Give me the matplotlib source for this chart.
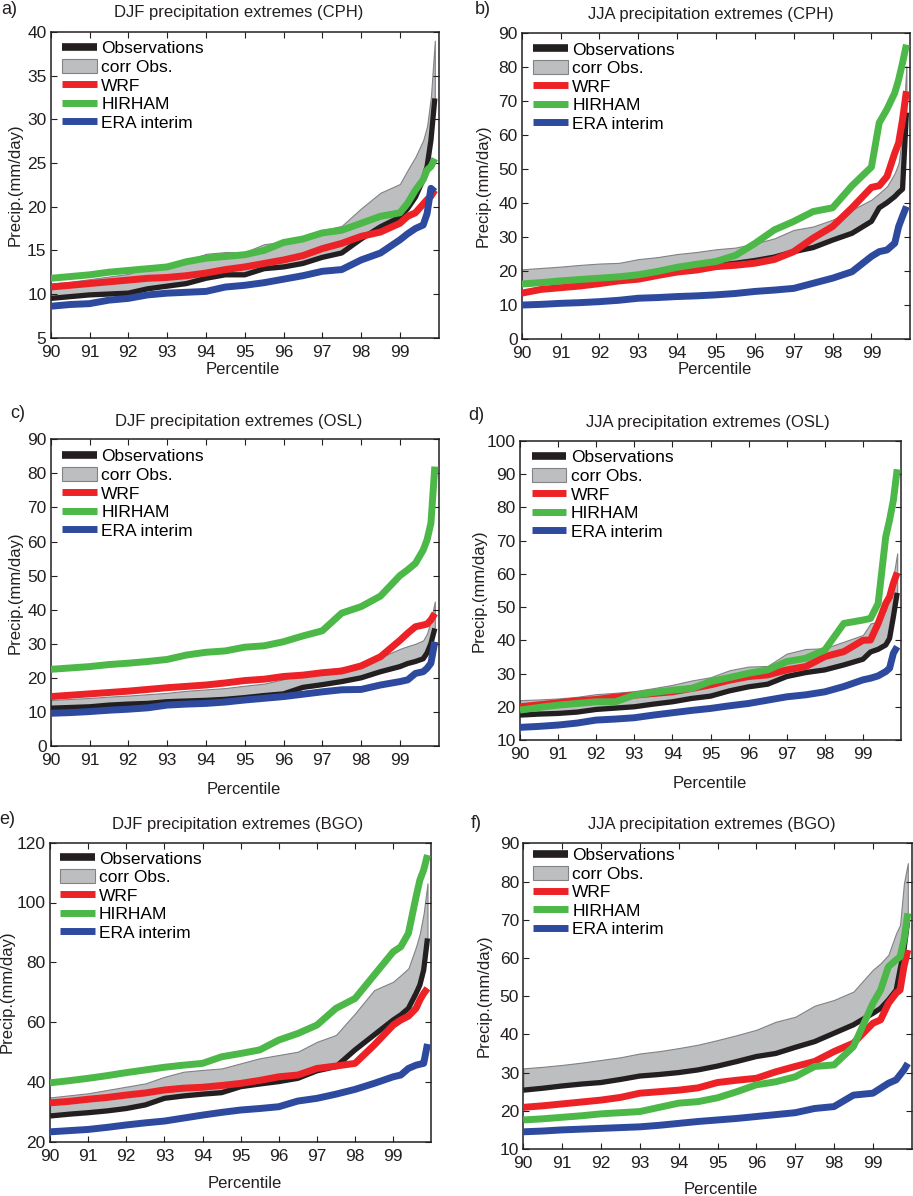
import matplotlib
matplotlib.use("Agg")
import matplotlib.pyplot as plt
from matplotlib.lines import Line2D
from matplotlib.patches import Patch

plt.rcParams['font.family'] = ['Liberation Sans', 'DejaVu Sans']

# ---------------- data ----------------
percentile = [90, 90.5, 91, 91.5, 92, 92.5, 93, 93.5, 94, 94.5, 95, 95.5, 96, 96.5,
              97, 97.5, 98, 98.5, 99, 99.2, 99.4, 99.6, 99.7, 99.8, 99.9]
xtick_labels = ['90', '91', '92', '93', '94', '95', '96', '97', '98', '99']
series_names = ['Observations', 'corr Obs.', 'WRF', 'HIRHAM', 'ERA interim']
titles = ['DJF precipitation extremes (CPH)', 'JJA precipitation extremes (CPH)',
          'DJF precipitation extremes (OSL)', 'JJA precipitation extremes (OSL)',
          'DJF precipitation extremes (BGO)', 'JJA precipitation extremes (BGO)']
panel_letters = ['a)', 'b)', 'c)', 'd)', 'e)', 'f)']

# a) DJF CPH
obs_a = [9.5, 9.7, 9.9, 10.0, 10.1, 10.6, 10.9, 11.2, 11.8, 12.2, 12.2, 12.9, 13.1, 13.5,
         14.2, 14.7, 16.3, 17.7, 18.8, 19.8, 21.1, 23.1, 24.6, 27.6, 32.4]
corr_a = [11.2, 11.4, 11.7, 12.0, 12.3, 13.0, 13.3, 13.8, 14.6, 14.8, 14.8, 15.7, 16.0, 16.5,
          17.3, 17.8, 19.8, 21.6, 22.6, 24.2, 25.7, 27.6, 29.2, 32.6, 39.0]
wrf_a = [10.8, 11.0, 11.2, 11.4, 11.6, 11.8, 11.9, 12.1, 12.4, 12.8, 13.1, 13.5, 13.9, 14.4,
         15.2, 15.8, 16.6, 17.1, 18.1, 18.9, 19.3, 20.3, 20.8, 21.2, 21.9]
hirham_a = [11.8, 12.0, 12.2, 12.5, 12.7, 12.9, 13.1, 13.7, 14.1, 14.3, 14.5, 15.0, 15.9, 16.3,
            17.0, 17.3, 18.1, 18.9, 19.3, 20.4, 21.9, 23.1, 24.2, 24.6, 25.5]
era_a = [8.6, 8.8, 8.9, 9.3, 9.5, 9.9, 10.1, 10.2, 10.3, 10.8, 11.0, 11.3, 11.7, 12.1,
         12.6, 12.8, 13.9, 14.7, 16.2, 16.9, 17.5, 17.9, 19.2, 22.1, 21.7]

# b) JJA CPH
obs_b = [16.0, 16.4, 16.8, 17.2, 17.5, 18.0, 18.4, 19.2, 20.0, 20.6, 21.5, 22.2, 23.0, 24.0,
         25.6, 26.8, 29.0, 31.0, 34.5, 38.5, 40.0, 41.8, 43.0, 44.0, 66.5]
corr_b = [20.4, 20.8, 21.2, 21.7, 22.1, 22.3, 23.4, 24.0, 24.9, 25.5, 26.3, 26.8, 28.0, 29.5,
          32.0, 33.0, 35.0, 37.9, 40.9, 42.8, 44.8, 48.7, 51.7, 60.5, 80.2]
wrf_b = [13.4, 14.5, 15.0, 15.5, 16.2, 17.0, 17.5, 18.6, 19.6, 20.2, 21.2, 21.6, 22.2, 23.3,
         25.6, 29.6, 33.0, 38.5, 44.5, 45.0, 47.7, 54.6, 57.6, 64.4, 72.8]
hirham_b = [16.1, 16.5, 17.0, 17.4, 17.8, 18.2, 18.8, 19.8, 21.0, 21.9, 22.7, 24.5, 28.0, 32.0,
            34.5, 37.4, 38.5, 45.0, 50.5, 63.5, 67.5, 72.3, 76.2, 81.1, 86.5]
era_b = [9.9, 10.1, 10.4, 10.6, 10.9, 11.3, 11.9, 12.1, 12.4, 12.6, 12.9, 13.3, 13.9, 14.3,
         14.8, 16.3, 17.8, 19.7, 24.2, 25.6, 26.1, 28.1, 33.0, 36.0, 38.9]

# c) DJF OSL
obs_c = [11.1, 11.3, 11.5, 12.0, 12.3, 12.5, 13.0, 13.2, 13.4, 13.7, 14.2, 14.8, 15.3, 17.2,
         18.0, 18.9, 20.0, 21.8, 23.3, 24.2, 24.8, 25.6, 27.3, 30.1, 34.5]
corr_c = [13.5, 13.8, 14.1, 14.5, 14.8, 15.2, 15.6, 16.2, 16.6, 17.0, 17.7, 18.3, 19.6, 21.3,
          22.2, 23.0, 24.2, 26.0, 28.5, 29.3, 30.0, 31.0, 33.0, 37.0, 42.4]
wrf_c = [14.5, 14.9, 15.3, 15.7, 16.1, 16.6, 17.1, 17.5, 17.9, 18.5, 19.2, 19.6, 20.4, 20.8,
         21.5, 22.0, 23.5, 26.2, 31.0, 33.1, 35.0, 35.5, 35.8, 37.0, 38.9]
hirham_c = [22.5, 22.9, 23.3, 23.9, 24.3, 24.8, 25.4, 26.7, 27.5, 27.9, 29.0, 29.4, 30.6, 32.3,
            33.8, 39.0, 40.9, 44.0, 50.0, 51.7, 53.6, 57.5, 60.5, 65.4, 82.0]
era_c = [9.6, 9.8, 10.1, 10.5, 10.8, 11.2, 12.0, 12.3, 12.5, 12.9, 13.5, 14.0, 14.5, 15.2,
         15.9, 16.5, 16.6, 17.9, 18.9, 19.4, 21.3, 21.8, 22.8, 24.3, 30.6]

# d) JJA OSL
obs_d = [17.5, 17.8, 18.0, 18.4, 19.2, 19.6, 20.0, 20.8, 21.5, 22.5, 23.2, 24.8, 26.0, 26.8,
         29.1, 30.3, 31.1, 32.6, 34.3, 36.5, 37.3, 38.6, 40.6, 47.1, 54.3]
corr_d = [22.0, 22.2, 22.5, 23.0, 23.8, 24.2, 24.7, 25.6, 26.6, 27.9, 28.9, 31.0, 32.1, 32.3,
          36.0, 37.4, 37.6, 39.6, 41.6, 45.1, 45.6, 49.1, 53.1, 59.2, 66.2]
wrf_d = [20.0, 20.6, 21.2, 21.8, 22.2, 22.9, 23.5, 24.0, 24.5, 25.5, 26.6, 28.0, 29.1, 29.6,
         31.1, 32.1, 35.1, 36.6, 40.0, 40.1, 45.1, 51.1, 53.1, 57.2, 60.4]
hirham_d = [19.0, 19.8, 20.5, 21.0, 21.5, 21.5, 23.5, 24.3, 25.0, 25.5, 27.6, 28.8, 30.1, 31.1,
            33.6, 34.6, 37.1, 45.1, 46.1, 46.6, 51.1, 71.2, 76.2, 82.2, 91.5]
era_d = [13.8, 14.1, 14.5, 15.1, 16.0, 16.3, 16.7, 17.5, 18.2, 18.9, 19.5, 20.3, 21.0, 22.0,
         23.0, 23.6, 24.5, 26.1, 28.1, 28.6, 29.3, 30.6, 31.6, 36.1, 38.1]

# e) DJF BGO
obs_e = [28.6, 29.2, 29.7, 30.3, 31.1, 32.3, 34.5, 35.3, 35.9, 36.4, 38.4, 39.3, 40.1, 41.2,
         43.7, 45.1, 50.7, 55.7, 60.7, 62.4, 64.6, 69.6, 72.4, 77.4, 88.0]
corr_e = [34.8, 35.5, 36.2, 37.3, 38.4, 39.5, 41.7, 43.4, 44.0, 44.5, 46.2, 47.9, 49.0, 50.1,
          53.4, 55.7, 62.9, 70.7, 73.5, 75.7, 78.0, 85.2, 89.7, 96.4, 106.4]
wrf_e = [33.0, 33.5, 34.2, 34.8, 35.6, 36.3, 37.3, 37.9, 38.2, 38.8, 39.5, 40.5, 41.7, 42.3,
         44.5, 45.3, 46.2, 52.3, 59.0, 60.7, 62.0, 64.6, 67.4, 69.6, 71.3]
hirham_e = [39.7, 40.4, 41.2, 42.1, 43.1, 44.0, 44.9, 45.6, 46.2, 48.4, 49.5, 50.7, 54.0, 56.2,
            59.0, 64.6, 67.9, 75.7, 83.5, 85.2, 89.7, 101.9, 107.5, 110.9, 115.9]
era_e = [23.3, 23.7, 24.1, 24.8, 25.6, 26.3, 26.9, 27.9, 28.9, 29.8, 30.6, 31.1, 31.7, 33.6,
         34.5, 35.9, 37.5, 39.5, 41.7, 42.3, 44.5, 45.6, 45.9, 46.2, 52.7]

# f) JJA BGO
obs_f = [25.4, 25.9, 26.5, 27.0, 27.4, 28.2, 29.1, 29.5, 30.0, 30.7, 31.7, 32.9, 34.2, 35.0,
         36.6, 38.1, 40.3, 42.5, 45.5, 46.8, 49.0, 51.6, 56.9, 62.1, 70.0]
corr_f = [31.1, 31.5, 32.0, 32.6, 33.3, 34.0, 35.0, 35.6, 36.4, 37.3, 38.5, 39.8, 41.2, 43.3,
          44.6, 47.5, 49.0, 51.2, 56.9, 58.6, 60.8, 66.5, 68.6, 79.5, 84.8]
wrf_f = [20.9, 21.3, 21.8, 22.3, 22.8, 23.5, 24.6, 25.0, 25.4, 26.0, 27.4, 28.0, 28.5, 30.2,
         31.6, 32.9, 35.5, 37.7, 42.9, 43.8, 48.1, 50.8, 51.6, 57.7, 62.1]
hirham_f = [17.6, 17.9, 18.3, 18.7, 19.2, 19.5, 19.8, 20.9, 22.0, 22.4, 23.4, 25.0, 26.8, 27.6,
            28.9, 31.6, 32.0, 36.8, 48.1, 51.6, 57.7, 59.5, 60.3, 64.7, 71.7]
era_f = [14.5, 14.7, 15.0, 15.2, 15.4, 15.6, 15.8, 16.2, 16.7, 17.2, 17.6, 18.0, 18.5, 19.0,
         19.5, 20.6, 21.1, 24.1, 24.6, 25.9, 27.2, 28.1, 29.4, 30.7, 32.4]

# ---------------- layout / style ----------------
W, H = 913, 1196
fig = plt.figure(figsize=(W / 100, H / 100), dpi=100)

def frac(x, y):
    return x / W, 1 - y / H

panels = [
    dict(rect=(50.7, 32, 438.7, 337.7), ylim=(5, 40), yt=range(5, 41, 5),
         data=(obs_a, corr_a, wrf_a, hirham_a, era_a),
         title=(239, 13), letter=(9, 9), ylab=(15.5, 185), xlab=(243, 369), leg=(11.5, 15)),
    dict(rect=(521.7, 32.7, 910.3, 338.7), ylim=(0, 90), yt=range(0, 91, 10),
         data=(obs_b, corr_b, wrf_b, hirham_b, era_b),
         title=(711, 15), letter=(483, 10), ylab=(483, 186), xlab=(714.7, 370), leg=(11.5, 15.6)),
    dict(rect=(50.7, 439.3, 438.7, 746), ylim=(0, 90), yt=range(0, 91, 10),
         data=(obs_c, corr_c, wrf_c, hirham_c, era_c),
         title=(239, 421.7), letter=(17.5, 413), ylab=(15.5, 593), xlab=(244, 789), leg=(11.5, 15.7)),
    dict(rect=(520, 441, 901, 740), ylim=(10, 100), yt=range(10, 101, 10),
         data=(obs_d, corr_d, wrf_d, hirham_d, era_d),
         title=(708, 422.3), letter=(476, 416), ylab=(479, 590.5), xlab=(710, 784), leg=(11.7, 15)),
    dict(rect=(50, 842.7, 431.3, 1141.7), ylim=(20, 120), yt=range(20, 121, 20),
         data=(obs_e, corr_e, wrf_e, hirham_e, era_e),
         title=(238, 824), letter=(7, 820), ylab=(7.5, 992), xlab=(244.7, 1184), leg=(10, 14.6)),
    dict(rect=(523.3, 843.3, 911.7, 1149), ylim=(10, 90), yt=range(10, 91, 10),
         data=(obs_f, corr_f, wrf_f, hirham_f, era_f),
         title=(712, 824), letter=(476, 824), ylab=(484, 996), xlab=(721, 1189), leg=(10, 10.5)),
]

c_obs = '#231f20'
c_band = '#bcbec0'
c_band_edge = '#808285'
c_wrf = '#ec2227'
c_hir = '#4cb848'
c_era = '#2e4a9f'
fs = 12

for i, p in enumerate(panels):
    l, t, r, b = p['rect']
    ax = fig.add_axes([l / W, 1 - b / H, (r - l) / W, (b - t) / H])
    obs, corr, wrf, hir, era = p['data']
    ax.fill_between(percentile, obs, corr, facecolor=c_band, edgecolor=c_band_edge,
                    linewidth=0.8, zorder=1)
    ax.plot(percentile, obs, color=c_obs, lw=3.8, solid_capstyle='butt', zorder=2)
    ax.plot(percentile, wrf, color=c_wrf, lw=5.0, solid_capstyle='butt', zorder=3)
    ax.plot(percentile, hir, color=c_hir, lw=5.0, solid_capstyle='butt', zorder=4)
    ax.plot(percentile, era, color=c_era, lw=5.0, solid_capstyle='butt', zorder=5)

    ax.set_xlim(90, 100)
    ax.set_ylim(*p['ylim'])
    ax.set_xticks(range(90, 100))
    ax.set_xticklabels(xtick_labels)
    ax.set_yticks(list(p['yt']))
    ax.tick_params(direction='in', top=True, right=True, length=4, width=0.8,
                   labelsize=fs + 0.5, colors='#231f20')
    ax.tick_params(axis='x', pad=5)
    ax.tick_params(axis='y', pad=3)
    for s in ax.spines.values():
        s.set_linewidth(1.1)
        s.set_color('#231f20')

    handles = [
        Line2D([0], [0], color=c_obs, lw=5.5, solid_capstyle='butt'),
        Patch(facecolor=c_band, edgecolor=c_band_edge, linewidth=0.8),
        Line2D([0], [0], color=c_wrf, lw=5, solid_capstyle='butt'),
        Line2D([0], [0], color=c_hir, lw=5, solid_capstyle='butt'),
        Line2D([0], [0], color=c_era, lw=5, solid_capstyle='butt'),
    ]
    dx, dy = p['leg']
    axw, axh = r - l, b - t
    ax.legend(handles, series_names, loc='upper left',
              bbox_to_anchor=(dx / axw, 1 - (dy - 6.5) / axh),
              frameon=False, fontsize=fs + 0.5, borderpad=0, borderaxespad=0,
              handlelength=2.0, handleheight=0.85, handletextpad=0.25,
              labelspacing=0.15)

    x, y = frac(*p['title'])
    fig.text(x, y, titles[i], ha='center', va='center', fontsize=fs, color='#231f20')
    x, y = frac(*p['letter'])
    fig.text(x, y, panel_letters[i], ha='center', va='center', fontsize=fs + 1, color='#231f20')
    x, y = frac(*p['ylab'])
    fig.text(x, y, 'Precip.(mm/day)', ha='center', va='center', rotation=90,
             fontsize=fs, color='#231f20')
    x, y = frac(*p['xlab'])
    fig.text(x, y, 'Percentile', ha='center', va='center', fontsize=fs, color='#231f20')

fig.savefig('out.png', dpi=100, facecolor='white')
